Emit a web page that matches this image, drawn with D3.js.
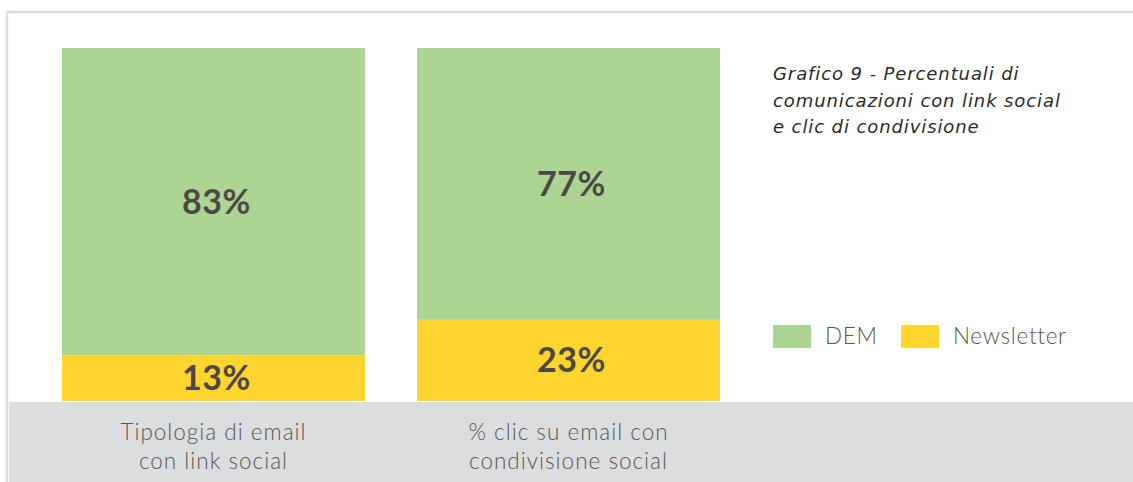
<!DOCTYPE html>
<html>
<head>
<meta charset="utf-8">
<script src="https://cdn.jsdelivr.net/npm/d3@7"></script>
<style>
  body { margin: 0; background: #fff; }
  svg { display: block; font-family: Lato, "Open Sans", sans-serif; }
</style>
</head>
<body>
<script>
// data
var categories = ["Tipologia di email con link social", "% clic su email con condivisione social"];
var categoryLines = [["Tipologia di email", "con link social"], ["% clic su email con", "condivisione social"]];
var demValues = [83, 77];
var newsletterValues = [13, 23];
var seriesNames = ["DEM", "Newsletter"];
var titleLines = ["Grafico 9 - Percentuali di", "comunicazioni con link social", "e clic di condivisione"];

var w = 1133;
var h = 482;
var green = "#acd594";
var yellow = "#fed42f";
var textDark = "#4d4846";

var svg = d3.select("body")
    .append("svg")
    .attr("width", w)
    .attr("height", h);

// frame
svg.append("rect").attr("x", 7).attr("y", 12).attr("width", w).attr("height", h)
    .attr("fill", "none").attr("stroke", "#dedede").attr("stroke-width", 2.5);
svg.append("rect").attr("x", 9).attr("y", 402).attr("width", w).attr("height", h - 402)
    .attr("fill", "#dcdddf");

var x = d3.scaleBand()
    .domain(categories)
    .range([62, 720])
    .paddingInner(52 / 355)
    .paddingOuter(0);

var y = d3.scaleLinear()
    .domain([0, 100])
    .range([401, 48]);

var rows = categories.map(function(c, i) {
    return { cat: c, dem: demValues[i], nl: newsletterValues[i] };
});

// DEM fills the bar above newsletter up to 100
svg.selectAll("rect.dem")
    .data(rows)
    .enter()
    .append("rect")
    .attr("class", "dem")
    .attr("x", function(d) { return x(d.cat); })
    .attr("y", y(100))
    .attr("width", x.bandwidth())
    .attr("height", function(d) { return y(d.nl) - y(100); })
    .attr("fill", green);

svg.selectAll("rect.nl")
    .data(rows)
    .enter()
    .append("rect")
    .attr("class", "nl")
    .attr("x", function(d) { return x(d.cat); })
    .attr("y", function(d) { return y(d.nl); })
    .attr("width", x.bandwidth())
    .attr("height", function(d) { return y(0) - y(d.nl); })
    .attr("fill", yellow);

// value labels
svg.selectAll("text.demlab")
    .data(rows)
    .enter()
    .append("text")
    .attr("x", function(d) { return x(d.cat) + x.bandwidth() / 2 + 3; })
    .attr("y", function(d) { return (y(100) + y(d.nl)) / 2 + 12; })
    .attr("text-anchor", "middle")
    .attr("font-size", 34)
    .attr("font-weight", "bold")
    .attr("letter-spacing", 0.5)
    .attr("fill", textDark)
    .text(function(d) { return d.dem + "%"; });

svg.selectAll("text.nllab")
    .data(rows)
    .enter()
    .append("text")
    .attr("x", function(d) { return x(d.cat) + x.bandwidth() / 2 + 3; })
    .attr("y", function(d) { return (y(0) + y(d.nl)) / 2 + 12; })
    .attr("text-anchor", "middle")
    .attr("font-size", 34)
    .attr("font-weight", "bold")
    .attr("letter-spacing", 0.5)
    .attr("fill", textDark)
    .text(function(d) { return d.nl + "%"; });

// category labels in the grey band
categories.forEach(function(c, i) {
    var t = svg.append("text")
        .attr("x", x(c) + x.bandwidth() / 2)
        .attr("y", 440)
        .attr("text-anchor", "middle")
        .attr("font-size", 22.5)
        .attr("font-weight", 300)
        .attr("letter-spacing", 1)
        .attr("fill", "#5a5553");
    categoryLines[i].forEach(function(line, j) {
        t.append("tspan")
            .attr("x", x(c) + x.bandwidth() / 2)
            .attr("dy", j == 0 ? 0 : 29)
            .text(line);
    });
});

// title
var title = svg.append("text")
    .attr("x", 773)
    .attr("y", 80)
    .attr("font-family", "'DejaVu Sans', sans-serif")
    .attr("font-size", 18)
    .attr("font-style", "italic")
    .attr("letter-spacing", 0.9)
    .attr("fill", "#2a2a2a");
titleLines.forEach(function(line, j) {
    title.append("tspan").attr("x", 773).attr("dy", j == 0 ? 0 : 26.5).text(line);
});

// legend
var legendX = [773, 901];
var legendColors = [green, yellow];
seriesNames.forEach(function(name, i) {
    svg.append("rect")
        .attr("x", legendX[i]).attr("y", 325)
        .attr("width", 38).attr("height", 23)
        .attr("fill", legendColors[i]);
    svg.append("text")
        .attr("x", legendX[i] + 52).attr("y", 344)
        .attr("font-size", 22.5)
        .attr("font-weight", 300)
        .attr("letter-spacing", 0.7)
        .attr("fill", "#5a5553")
        .text(name);
});
</script>
</body>
</html>
